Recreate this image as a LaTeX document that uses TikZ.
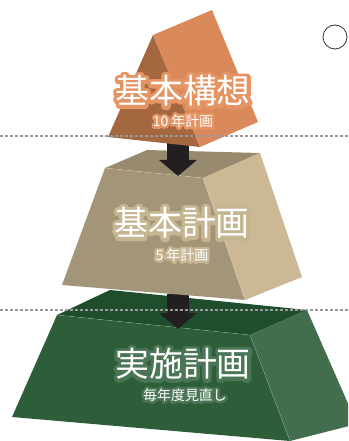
\documentclass[tikz,border=0pt]{standalone}
\usepackage{fontspec}
\newfontfamily\jpfont{Noto Sans CJK JP}
\usetikzlibrary{arrows.meta}

\definecolor{orangelight}{HTML}{D9895A}
\definecolor{orangedark}{HTML}{A5673F}
\definecolor{orangehalo}{HTML}{E59463}
\definecolor{beigetop}{HTML}{978A6F}
\definecolor{beigefront}{HTML}{A39578}
\definecolor{beigeside}{HTML}{CDB896}
\definecolor{beigehalo}{HTML}{C6B591}
\definecolor{greentop}{HTML}{1E4E2C}
\definecolor{greenfront}{HTML}{2E5D3A}
\definecolor{greenside}{HTML}{426E4E}
\definecolor{greenhalo}{HTML}{4A7656}
\definecolor{arrowblack}{HTML}{231F20}

% outlined glyphs for the halo behind a label
\newcommand\strokeon[1]{\special{pdf:literal direct 2 Tr #1 w 1 j 1 J}}
\newcommand\strokeoff{\special{pdf:literal direct 0 Tr}}
\newcommand\glowlabel[6]{%
  \node[text=#4,font=\jpfont\fontsize{#3}{#3}\selectfont] at #2 {\strokeon{#5}#6\strokeoff};
  \node[text=white,font=\jpfont\fontsize{#3}{#3}\selectfont] (#1) at #2 {#6};
}

\begin{document}
\begin{tikzpicture}[x=1bp,y=-1bp,
    edge/.style={white,opacity=0.25,line width=0.5bp},
    guide/.style={draw=black!40,line width=1.1bp,dash pattern=on 3bp off 2bp},
    blockarrow/.style={draw=arrowblack,line width=22bp,-{Triangle[width=37bp,length=16bp]}}]
  \useasboundingbox (0,0) rectangle (348,441);
  \clip (0,0) rectangle (348,441);

  % bottom block
  \fill[greentop] (57,315) -- (110,290) -- (307,310) -- (250,335) -- cycle;
  \fill[greenfront] (57,315) -- (250,335) -- (290,441) -- (12,417) -- cycle;
  \fill[greenside] (250,335) -- (307,310) -- (357,424) -- (290,441) -- cycle;
  \draw[edge] (57,315) -- (250,335) -- (290,441);

  \coordinate (arrB-start) at (178,294);
  \coordinate (arrB-end) at (178,329);
  \draw[blockarrow] (arrB-start) -- (arrB-end);

  % middle block
  \fill[beigetop] (105,168) -- (147,150) -- (260,153) -- (203,178) -- cycle;
  \fill[beigefront] (105,168) -- (203,178) -- (245,300) -- (62,285) -- cycle;
  \fill[beigeside] (203,178) -- (260,153) -- (302,277) -- (245,300) -- cycle;
  \draw[edge] (105,168) -- (203,178) -- (245,300);

  \coordinate (arrA-start) at (178,141);
  \coordinate (arrA-end) at (178,176);
  \draw[blockarrow] (arrA-start) -- (arrA-end);

  % top prism
  \fill[orangedark] (153,35) -- (108,137) -- (200,147) -- cycle;
  \fill[orangelight] (153,35) -- (212,10) -- (258,122) -- (200,147) -- cycle;

  \draw[guide] (0,136) -- (348,136);
  \draw[guide] (0,310) -- (348,310);

  \glowlabel{vision}{(183,91)}{34}{orangehalo}{7}{基本構想}
  \glowlabel{visionsub}{(183,121)}{14}{orangehalo}{5}{10\kern3bp 年計画}
  \glowlabel{basic}{(182,223)}{34}{beigehalo}{7}{基本計画}
  \glowlabel{basicsub}{(182,255)}{14}{beigehalo}{5}{5\kern3bp 年計画}
  \glowlabel{action}{(183,364)}{34}{greenhalo}{7}{実施計画}
  \glowlabel{actionsub}{(185,395)}{14}{greenhalo}{5}{毎年度見直し}

  \node[draw=black!80,line width=0.8bp,circle,minimum size=24bp,inner sep=0pt] (mark) at (335,37) {};
\end{tikzpicture}
\end{document}
